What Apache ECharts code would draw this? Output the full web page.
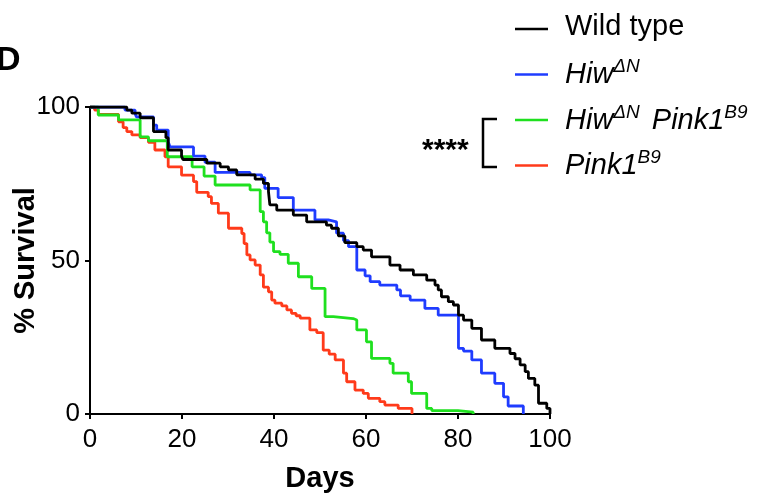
<!DOCTYPE html>
<html><head><meta charset="utf-8">
<script src="https://cdn.jsdelivr.net/npm/echarts@6/dist/echarts.min.js"></script>
<style>html,body{margin:0;padding:0;background:#fff}#c{width:758px;height:498px}</style>
</head><body><div id="c"></div>
<script>
const seriesNames = ['Wild type', 'HiwΔN', 'HiwΔN Pink1B9', 'Pink1B9'];
const legendRich = ['Wild type', '{i|Hiw}{s|ΔN}', '{i|Hiw}{s|ΔN}{p|Pink1}{s|B9}', '{i|Pink1}{s|B9}'];
const colors = ['#000000', '#1f3cff', '#1fe01f', '#ff3a1a'];
const xTicks = [0, 20, 40, 60, 80, 100];
const yTicks = [0, 50, 100];

const wildType = [[0,100],[8,99],[9.1,98],[10.9,96.5],[13.8,92],[16.5,90],[17,86],[19.9,84],[20.2,82.9],[25.4,81.7],[28.3,80.5],[30.1,79.5],[31.9,77.9],[35.9,76.5],[37.7,75.1],[38.8,72.4],[39.1,68.1],[40.6,66.4],[44.2,64.8],[47.1,62.6],[51.4,61.5],[52.5,60.5],[54,58],[55.4,55.8],[58,54.5],[59.4,53.4],[61.2,51.2],[65.2,48.5],[67.4,46.9],[70.3,45.3],[73.2,43.6],[75,42],[75.7,40.4],[76.4,38.2],[77.9,36.6],[79,35.5],[80.1,32.2],[81.2,30.6],[83,27.9],[85.1,24.1],[88,21.4],[91.3,19.7],[92.4,18],[93.5,16],[94.6,13.8],[95.3,11.6],[96.7,9.4],[97.5,3.5],[99.3,1.8],[100,0]];
const hiw = [[0,100],[7.6,99],[9.8,97.8],[10.1,96.8],[13.8,94.1],[14.5,92.5],[17,88.7],[17.4,87],[22.5,84],[25,82],[27.2,78.7],[34.8,77.9],[37.3,77],[38,73.5],[40.9,70.5],[44.2,66.4],[48.9,63.2],[51.8,62.6],[53.6,58.9],[55.1,56.5],[56.2,54.5],[58,46.9],[59.8,45],[60.9,43.1],[63,42],[66.7,40.4],[67.5,38.5],[69.6,37.1],[72.8,34.4],[75.7,32.2],[80.1,21.4],[81.2,20.5],[83,17.6],[85.1,13.3],[88,10],[89.9,5.6],[90.9,2.6],[94.2,0]];
const hiwPink1 = [[0,100],[1.8,97.4],[6.2,95.8],[10.9,90.3],[12.7,89],[16.8,83.8],[22.2,80.5],[24.8,77.5],[27.2,74.6],[34.8,73],[37,65.9],[37.7,62.6],[38.4,59],[39.1,56],[39.9,52.9],[41.3,52],[43.1,49.1],[45.3,44.7],[48.2,40.9],[51.1,31.7],[52.9,31.1],[57.2,30.6],[58,27.4],[60.1,23.5],[61.2,18.1],[65.2,16.5],[65.9,13.3],[69.2,10.5],[69.9,6.7],[73.2,1.8],[74.3,1.1],[80,0.6],[83.3,0]];
const pink1 = [[0,100],[1,99],[1.8,97.6],[6.2,95.2],[7.2,93.3],[8,92],[9.1,90.9],[10.9,90],[12.7,88.5],[14.1,86],[16.3,83.8],[17,80.5],[19.9,77.8],[22.5,75.7],[23.2,72.2],[25.7,70.8],[26.4,68.6],[27.9,65.4],[30.1,60.5],[33.0,58.8],[33.5,55.5],[34.1,51.8],[34.8,50.2],[35.9,48.5],[37,45.3],[37.7,41.3],[38.8,39.8],[39.5,37.1],[40.2,36.1],[41.7,35.2],[42.8,33.9],[43.8,32.8],[44.8,32],[45.7,31.2],[47.8,27.4],[49.3,26.5],[50.7,20.8],[52,19.5],[53.3,17.6],[55.1,13.3],[55.8,10.5],[57.6,7.8],[59.4,6.7],[60.5,5.1],[63,4],[64.1,2.9],[67,1.8],[70,0]];
const allData = [wildType, hiw, hiwPink1, pink1];

const FONT = '"Liberation Sans", Arial, sans-serif';
const chart = echarts.init(document.getElementById('c'), null, {renderer: 'canvas'});

const legendTop = 29, legendStep = 45.5;
const graphics = [];
seriesNames.forEach((n, i) => {
  const y = legendTop + i * legendStep;
  graphics.push({type: 'line', shape: {x1: 515, y1: y, x2: 548, y2: y}, style: {stroke: colors[i], lineWidth: 2.5}});
  graphics.push({type: 'text', left: 565, top: y - 17, style: {
    text: legendRich[i], fill: '#000', font: '29px ' + FONT,
    rich: {
      i: {fontSize: 29, fontStyle: 'italic', fontFamily: FONT, fill: '#000'},
      p: {fontSize: 29, fontStyle: 'italic', fontFamily: FONT, fill: '#000', padding: [0, 0, 0, 12]},
      s: {fontSize: 19, fontStyle: 'italic', fontFamily: FONT, fill: '#000', verticalAlign: 'top', padding: [0, 0, 16, 0]}
    }
  }});
});
// bracket
graphics.push({type: 'polyline', shape: {points: [[497, 119], [483, 119], [483, 167], [497, 167]]}, style: {stroke: '#000', lineWidth: 2.5, fill: null}});
graphics.push({type: 'text', left: 422, top: 136, style: {text: '****', font: 'bold 30px ' + FONT, fill: '#000'}});
graphics.push({type: 'text', left: -4, top: 44, style: {text: 'D', font: 'bold 34px ' + FONT, fill: '#000'}});

chart.setOption({
  animation: false,
  backgroundColor: '#fff',
  grid: {left: 90, right: 208, top: 107, bottom: 84, containLabel: false, outerBoundsMode: 'none'},
  xAxis: {
    type: 'value', min: 0, max: 100, interval: 20,
    name: 'Days', nameLocation: 'middle', nameGap: 50, nameMoveOverlap: false,
    nameTextStyle: {fontSize: 29, fontWeight: 'bold', color: '#000', fontFamily: FONT},
    axisLine: {show: true, lineStyle: {color: '#000', width: 2}},
    axisTick: {show: true, length: 5, lineStyle: {color: '#000', width: 2}},
    axisLabel: {fontSize: 26, color: '#000', fontFamily: FONT, margin: 13, formatter: v => xTicks.includes(v) ? String(v) : ''},
    splitLine: {show: false}
  },
  yAxis: {
    type: 'value', min: 0, max: 100, interval: 50,
    name: '% Survival', nameLocation: 'middle', nameGap: 50, nameRotate: 90, nameMoveOverlap: false,
    nameTextStyle: {fontSize: 29, fontWeight: 'bold', color: '#000', fontFamily: FONT},
    axisLine: {show: true, lineStyle: {color: '#000', width: 2}},
    axisTick: {show: true, length: 5, lineStyle: {color: '#000', width: 2}},
    axisLabel: {fontSize: 26, color: '#000', fontFamily: FONT, margin: 10, formatter: v => yTicks.includes(v) ? String(v) : ''},
    splitLine: {show: false}
  },
  graphic: graphics,
  series: seriesNames.map((n, i) => ({
    name: n, type: 'line', step: 'end', data: allData[i], showSymbol: false, symbol: 'none',
    lineStyle: {color: colors[i], width: 2.8}, z: 10 - i
  }))
});
</script></body></html>
